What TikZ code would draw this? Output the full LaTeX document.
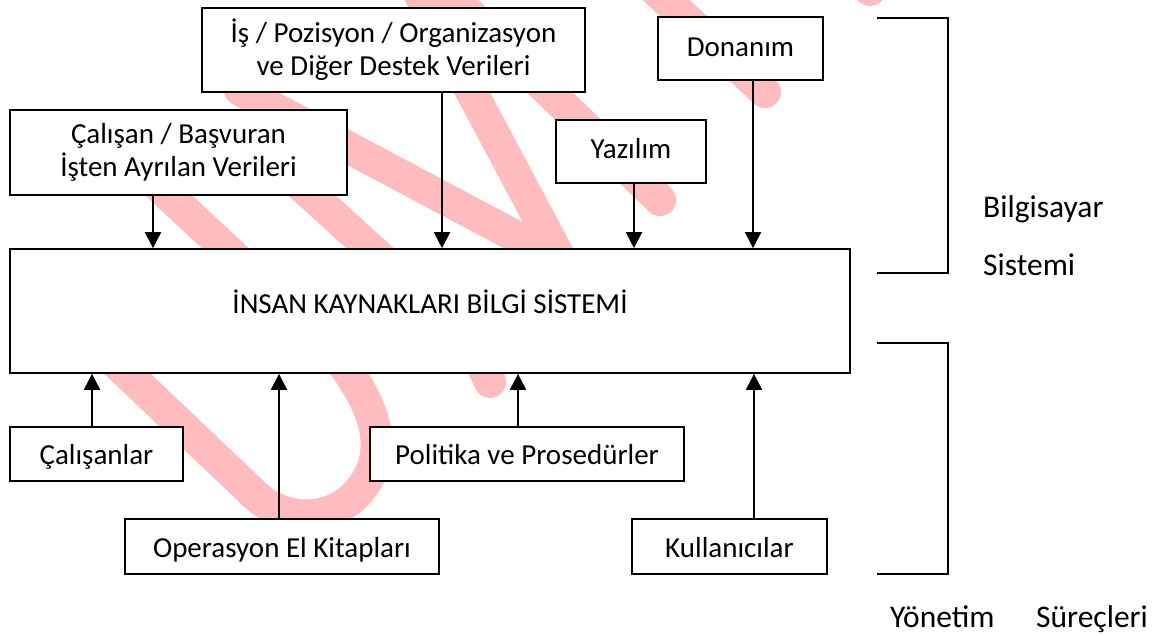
\documentclass[tikz,border=0pt]{standalone}
\usepackage{fontspec}
\setmainfont{Carlito}
\usetikzlibrary{arrows.meta}
\definecolor{wm}{RGB}{255,188,190}
\begin{document}
\begin{tikzpicture}[x=1pt,y=-1pt,
  box/.style={draw=black,line width=2pt,fill=white,inner sep=0pt,
    font=\fontsize{29}{33}\selectfont,align=center},
  arr/.style={line width=2pt,-{Triangle[width=16pt,length=16pt]}},
  wmk/.style={wm,line width=32pt,line cap=round},
  lbl/.style={font=\fontsize{31.5}{34}\selectfont,anchor=base west,inner sep=0pt},
  brk/.style={line width=2pt}]
\useasboundingbox (0,0) rectangle (1154,635);
\fill[white] (0,0) rectangle (1154,635);
% watermark
\begin{scope}
\clip (0,0) rectangle (1154,635);
\draw[wmk] (150,178) -- (240,262);
\draw[wmk] (295,180) -- (385,262);
\draw[wmk] (240,90) -- (545,252);
\draw[wmk] (412,-20) -- (560,258);
\draw[wmk] (440,-15) -- (660,200);
\draw[wmk] (650,-15) -- (765,92);
\draw[wmk] (830,-45) -- (870,-10);
\draw[wmk] (465,330) -- (490,382);
\draw[wmk] (115,362) -- (255,495) .. controls (290,528) and (350,522) .. (372,470) .. controls (386,432) and (366,396) .. (340,360);
\end{scope}
% boxes
\node[box,minimum width=383pt,minimum height=84pt] (is) at (393.5,50) {İş / Pozisyon / Organizasyon\\ve Diğer Destek Verileri};
\node[box,minimum width=337pt,minimum height=85pt] (cal) at (178.5,152.5) {Çalışan / Başvuran\\İşten Ayrılan Verileri};
\node[box,minimum width=165pt,minimum height=63pt,text height=15pt,text depth=0pt] (don) at (740.5,48.5) {Donanım};
\node[box,minimum width=150pt,minimum height=63pt,text height=13pt,text depth=0pt] (yaz) at (631,151.5) {Yazılım};
\node[box,line width=1.7pt,minimum width=840pt,minimum height=124pt,text height=20pt,text depth=16pt] (main) at (430,311) {İNSAN KAYNAKLARI BİLGİ SİSTEMİ};
\node[box,minimum width=173pt,minimum height=54pt,text height=21pt,text depth=0pt] (cln) at (96.5,454) {Çalışanlar};
\node[box,minimum width=314pt,minimum height=54pt,text height=21pt,text depth=0pt] (pol) at (527,454) {Politika ve Prosedürler};
\node[box,minimum width=314pt,minimum height=55pt,text height=21pt,text depth=0pt] (ope) at (282,546.5) {Operasyon El Kitapları};
\node[box,minimum width=195pt,minimum height=55pt,text height=21pt,text depth=0pt] (kul) at (729.5,546.5) {Kullanıcılar};
% arrows
\draw[arr] ([xshift=-25.5pt]cal.south) -- ([xshift=-25.5pt]cal.south |- main.north);
\draw[arr] ([xshift=48.5pt]is.south) -- ([xshift=48.5pt]is.south |- main.north);
\draw[arr] ([xshift=3pt]yaz.south) -- ([xshift=3pt]yaz.south |- main.north);
\draw[arr] ([xshift=12.5pt]don.south) -- ([xshift=12.5pt]don.south |- main.north);
\draw[arr] ([xshift=-4.5pt]cln.north) -- ([xshift=-4.5pt]cln.north |- main.south);
\draw[arr] ([xshift=-3pt]ope.north) -- ([xshift=-3pt]ope.north |- main.south);
\draw[arr] ([xshift=-9pt]pol.north) -- ([xshift=-9pt]pol.north |- main.south);
\draw[arr] ([xshift=24.5pt]kul.north) -- ([xshift=24.5pt]kul.north |- main.south);
% brackets
\coordinate (b1a) at (877,17.5);
\coordinate (b1b) at (948,17.5);
\coordinate (b1c) at (948,273);
\coordinate (b1d) at (877,273);
\coordinate (b2a) at (877,342.5);
\coordinate (b2b) at (948,342.5);
\coordinate (b2c) at (948,574);
\coordinate (b2d) at (877,574);
\draw[brk] (b1a) -- (b1b) -- (b1c) -- (b1d);
\draw[brk] (b2a) -- (b2b) -- (b2c) -- (b2d);
% labels
\node[lbl] (bil) at (983,217) {Bilgisayar};
\node[lbl] (sis) at (983,275) {Sistemi};
\node[lbl] (yon) at (890,627) {Yönetim};
\node[lbl] (sur) at (1036,627) {Süreçleri};
\end{tikzpicture}
\end{document}
